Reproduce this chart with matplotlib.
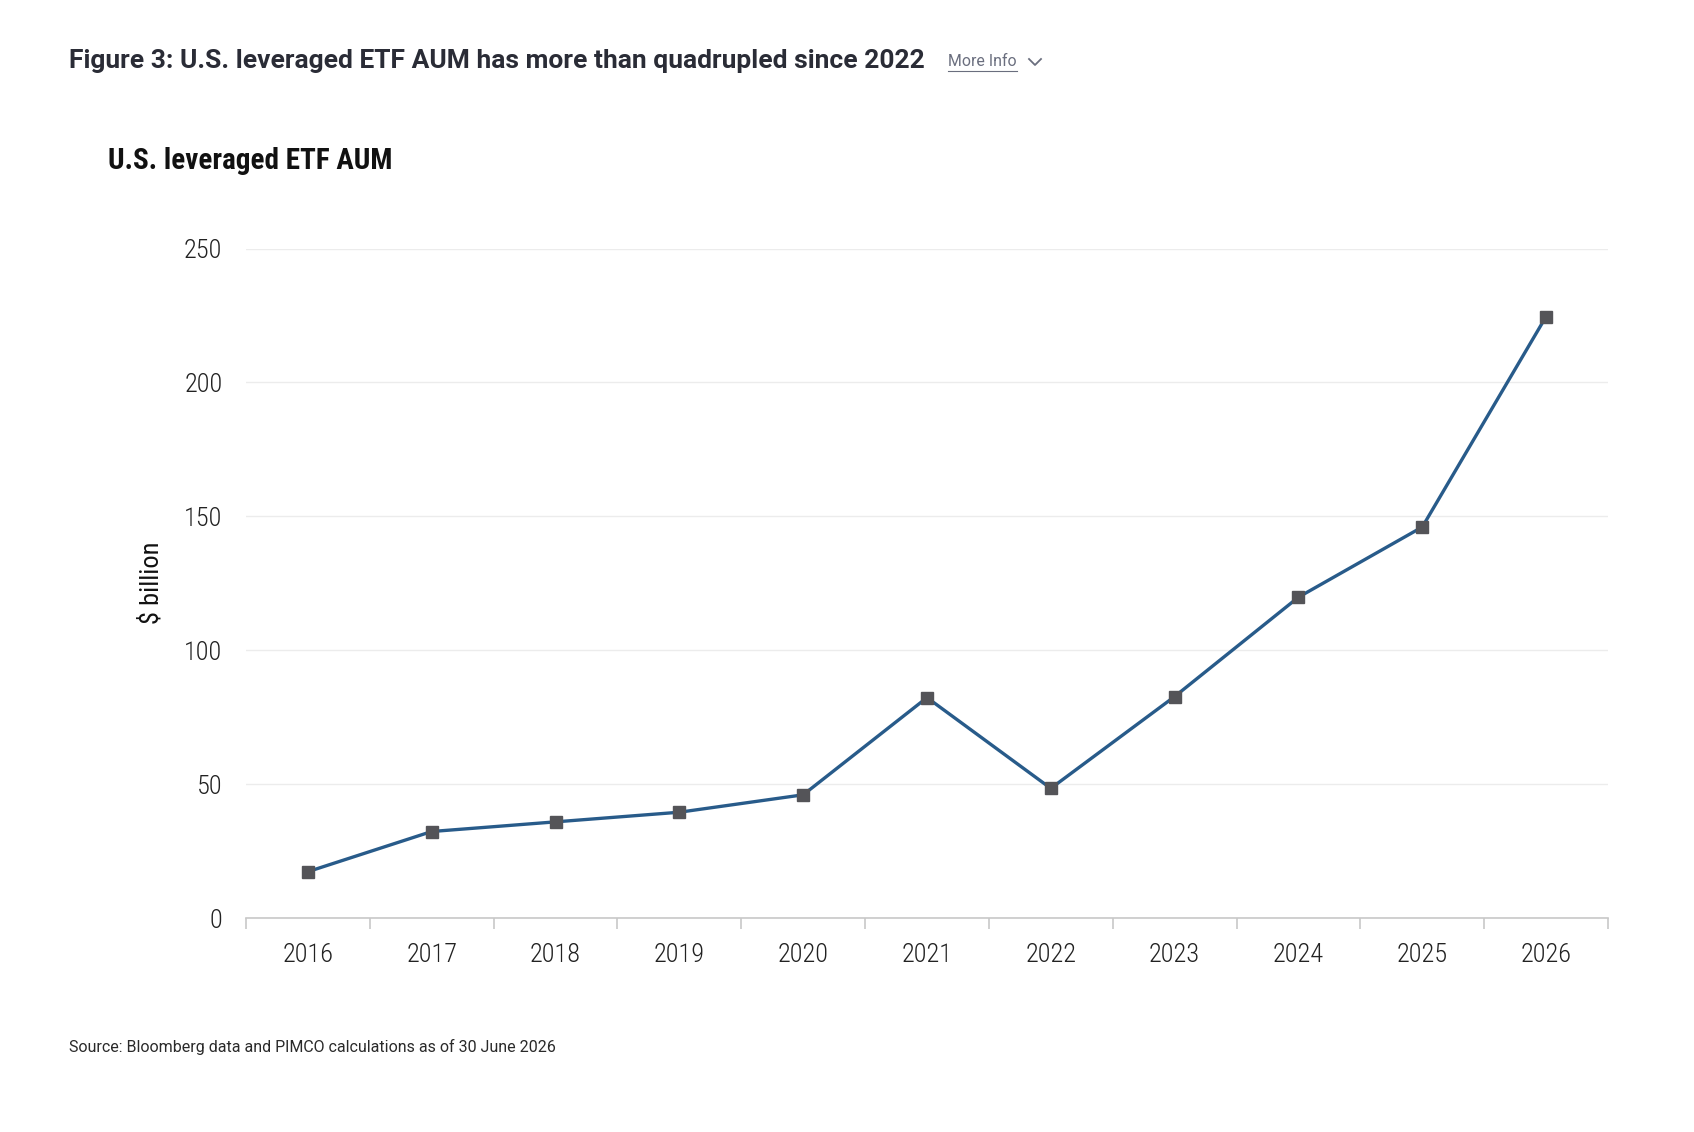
import matplotlib
matplotlib.use("Agg")
import matplotlib.pyplot as plt
from matplotlib.lines import Line2D

years = ['2016', '2017', '2018', '2019', '2020', '2021', '2022', '2023', '2024', '2025', '2026']
aum = [17.3, 32.3, 35.9, 39.5, 46.0, 82.3, 48.4, 82.7, 119.8, 146.0, 224.6]
yticks = [0, 50, 100, 150, 200, 250]

W, H = 1694, 1132
fig = plt.figure(figsize=(W / 100, H / 100), dpi=100)
ax = fig.add_axes([246 / W, 1 - 918 / H, (1608 - 246) / W, (918 - 248.5) / H])

x = list(range(len(years)))
ax.plot(x, aum, color='#285b8a', lw=2.4, marker='s', ms=8.5,
        mfc='#545458', mec='#545458', zorder=3)
ax.set_xlim(-0.5, len(years) - 0.5)
ax.set_ylim(0, 250)

# grid + axes
ax.set_yticks(yticks)
ax.grid(axis='y', color='#ececec', lw=1)
ax.set_axisbelow(True)
for s in ['top', 'right', 'left']:
    ax.spines[s].set_visible(False)
ax.spines['bottom'].set_color('#c8c8c8')
ax.spines['bottom'].set_linewidth(1.2)
ax.tick_params(axis='y', length=0, pad=17, labelsize=19, labelcolor='#222222')
ax.set_xticks([i - 0.5 for i in range(len(years) + 1)])
ax.set_xticklabels([])
ax.set_xticks(x, minor=True)
ax.set_xticklabels(years, minor=True)
ax.tick_params(axis='x', which='major', length=8, color='#c8c8c8', width=1.2)
ax.tick_params(axis='x', which='minor', length=0, pad=18, labelsize=19, labelcolor='#222222')
for lab in ax.get_yticklabels() + ax.get_xticklabels(minor=True):
    lab.set_fontfamily('Roboto Condensed')
    lab.set_fontweight('light')

fig.text(151 / W, 1 - 583 / H, '$ billion', rotation=90, ha='center', va='center',
         fontsize=19, family='Roboto Condensed', color='#111111')

# titles
fig.text(69 / W, 1 - 61 / H, 'Figure 3: U.S. leveraged ETF AUM has more than quadrupled since 2022',
         fontsize=19, fontweight='bold', family='Roboto', color='#2a2c36', va='center')
fig.text(948 / W, 1 - 62 / H, 'More Info', fontsize=11.4, family='Roboto',
         color='#6a6e7e', va='center')
fig.add_artist(Line2D([948 / W, 1017 / W], [1 - 71 / H, 1 - 71 / H], transform=fig.transFigure,
                      color='#6a6e7e', lw=0.8))
fig.add_artist(Line2D([1029 / W, 1035 / W, 1041 / W], [1 - 59 / H, 1 - 65 / H, 1 - 59 / H],
                      transform=fig.transFigure, color='#6a6e7e', lw=1.3))
fig.text(108 / W, 1 - 161 / H, 'U.S. leveraged ETF AUM', fontsize=21, fontweight='bold',
         family='Roboto Condensed', color='#111111', va='center')
fig.text(69 / W, 1 - 1047 / H, 'Source: Bloomberg data and PIMCO calculations as of 30 June 2026',
         fontsize=11.5, family='Roboto', color='#2a2a2a', va='center')

fig.savefig('out.png', dpi=100, facecolor='white')
